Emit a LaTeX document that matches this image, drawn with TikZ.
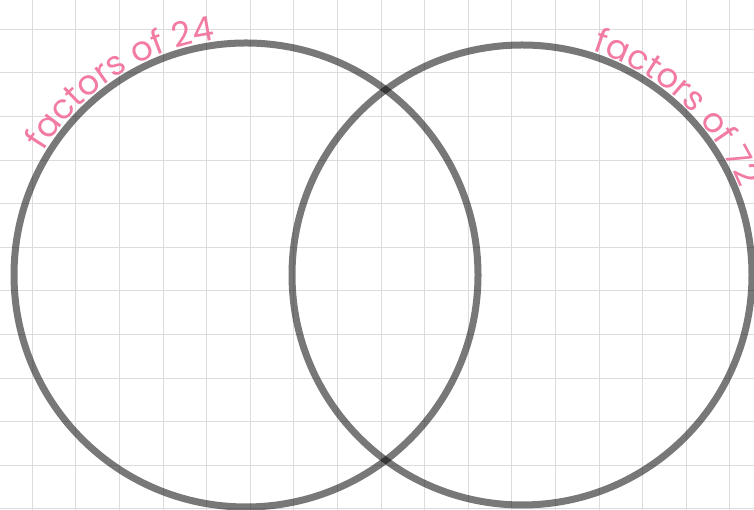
\documentclass[tikz,border=0pt]{standalone}
\usepackage{fontspec}
\newfontfamily\handfont{Poppins}
\usetikzlibrary{decorations.text}

\definecolor{gridgray}{HTML}{DCDCDC}
\definecolor{labelpink}{HTML}{F27BA1}

\begin{document}
\begin{tikzpicture}[
  x=1pt, y=1pt,
  gridline/.style={draw=gridgray, line width=1pt},
  setring/.style={circle, draw=black, draw opacity=0.53, line width=7pt,
                  minimum size=464pt, inner sep=0pt},
  arclabel/.style={decorate, decoration={text along path, text align=center,
                   text={|\handfont\fontsize{34}{34}\selectfont\color{labelpink}|#1}}},
]
\useasboundingbox (0,0) rectangle (754,510);

% background grid
\foreach \i in {0,...,16}
  \draw[gridline] (32.3+43.6*\i,0) -- (32.3+43.6*\i,510);
\foreach \j in {0,...,11}
  \draw[gridline] (0,480.7-43.6*\j) -- (754,480.7-43.6*\j);

% the two sets
\coordinate (c24) at (246,235);
\coordinate (c72) at (522,235);
\node[setring] (set24) at (c24) {};
\node[setring, minimum size=460pt] (set72) at (c72) {};

% labels along the rims
\path[arclabel={factors of 24}] (c24) ++(172:237) arc[start angle=172, end angle=74, radius=237];
\path[arclabel={factors of 72}] (c72) ++(95:235) arc[start angle=95, end angle=-1, radius=235];

\end{tikzpicture}
\end{document}
